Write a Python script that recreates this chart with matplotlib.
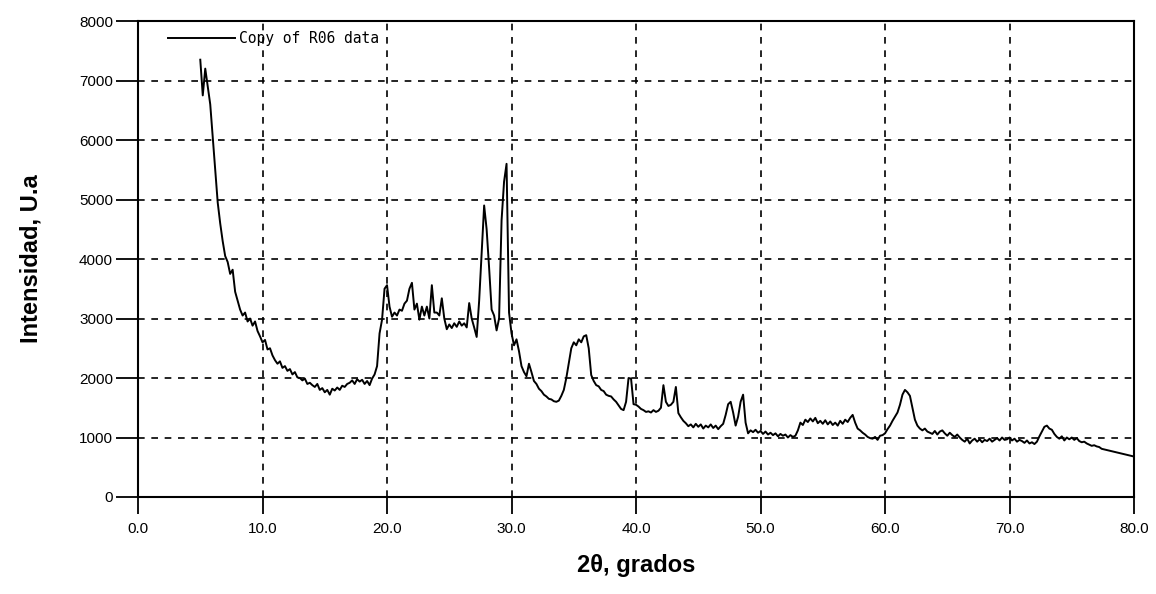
import numpy as np
import matplotlib
matplotlib.use("Agg")
import matplotlib.pyplot as plt

# scan grid of the diffractogram (2 theta, degrees)
theta_start = 5.0
theta_step = 0.2

# intensity, 5 points per degree from 5.0 to 80.0
intensidad = [
    7350, 6750, 7200, 6900, 6600,   # 5
    6050, 5500, 4950, 4600, 4300,   # 6
    4050, 3950, 3750, 3820, 3450,   # 7
    3300, 3150, 3050, 3100, 2950,   # 8
    3000, 2880, 2950, 2790, 2700,   # 9
    2600, 2640, 2480, 2500, 2380,   # 10
    2300, 2240, 2280, 2170, 2200,   # 11
    2120, 2150, 2060, 2100, 2010,   # 12
    2000, 1960, 1990, 1900, 1920,   # 13
    1880, 1850, 1900, 1800, 1830,   # 14
    1760, 1800, 1720, 1820, 1790,   # 15
    1840, 1800, 1870, 1850, 1900,   # 16
    1920, 1960, 1900, 1980, 1940,   # 17
    1970, 1900, 1950, 1880, 1990,   # 18
    2060, 2200, 2750, 2980, 3500,   # 19
    3560, 3200, 3030, 3100, 3050,   # 20
    3150, 3130, 3250, 3300, 3500,   # 21
    3600, 3150, 3250, 2980, 3200,   # 22
    3050, 3200, 3000, 3560, 3100,   # 23
    3100, 3050, 3340, 3000, 2820,   # 24
    2900, 2840, 2920, 2860, 2950,   # 25
    2880, 2920, 2850, 3260, 3000,   # 26
    2850, 2690, 3300, 4100, 4900,   # 27
    4500, 3850, 3150, 3050, 2800,   # 28
    3000, 4650, 5300, 5600, 3100,   # 29
    2750, 2550, 2650, 2450, 2200,   # 30
    2100, 2030, 2240, 2100, 1950,   # 31
    1900, 1820, 1780, 1720, 1690,   # 32
    1650, 1640, 1610, 1600, 1620,   # 33
    1700, 1800, 2000, 2250, 2500,   # 34
    2600, 2550, 2650, 2600, 2700,   # 35
    2720, 2500, 2050, 1950, 1880,   # 36
    1860, 1800, 1780, 1720, 1700,   # 37
    1690, 1640, 1600, 1540, 1480,   # 38
    1460, 1600, 2000, 1990, 1560,   # 39
    1550, 1520, 1480, 1460, 1430,   # 40
    1440, 1420, 1460, 1430, 1450,   # 41
    1500, 1880, 1600, 1530, 1550,   # 42
    1600, 1850, 1410, 1340, 1280,   # 43
    1240, 1190, 1220, 1170, 1230,   # 44
    1180, 1220, 1150, 1200, 1170,   # 45
    1220, 1160, 1200, 1140, 1190,   # 46
    1230, 1380, 1560, 1600, 1420,   # 47
    1200, 1350, 1600, 1720, 1250,   # 48
    1070, 1120, 1090, 1130, 1080,   # 49
    1110, 1060, 1100, 1050, 1080,   # 50
    1040, 1070, 1020, 1060, 1030,   # 51
    1050, 1000, 1040, 1010, 1030,   # 52
    1120, 1250, 1210, 1300, 1260,   # 53
    1320, 1270, 1330, 1240, 1280,   # 54
    1230, 1290, 1220, 1270, 1210,   # 55
    1250, 1200, 1280, 1230, 1300,   # 56
    1260, 1330, 1380, 1250, 1150,   # 57
    1120, 1080, 1050, 1010, 990,    # 58
    980, 1010, 960, 1030, 1040,     # 59
    1070, 1140, 1200, 1280, 1350,   # 60
    1420, 1550, 1720, 1800, 1760,   # 61
    1700, 1500, 1300, 1200, 1150,   # 62
    1120, 1150, 1100, 1080, 1060,   # 63
    1110, 1050, 1100, 1120, 1070,   # 64
    1030, 1080, 1040, 1010, 1050,   # 65
    1000, 960, 930, 980, 900,       # 66
    950, 980, 930, 970, 920,        # 67
    960, 940, 980, 930, 960,        # 68
    990, 950, 1000, 960, 970,       # 69
    1000, 950, 980, 930, 960,       # 70
    940, 910, 950, 900, 920,        # 71
    890, 930, 1020, 1100, 1180,     # 72
    1200, 1150, 1130, 1060, 1010,   # 73
    980, 1020, 950, 1000, 970,      # 74
    1000, 960, 990, 940, 920,       # 75
    930, 900, 880, 860, 870,        # 76
    850, 840, 810, 800, 790,        # 77
    780, 770, 760, 750, 740,        # 78
    730, 720, 710, 700, 690,        # 79
    680,                            # 80
]
dos_theta = theta_start + theta_step * np.arange(len(intensidad))

x_ticks = [0, 10, 20, 30, 40, 50, 60, 70, 80]
y_ticks = [0, 1000, 2000, 3000, 4000, 5000, 6000, 7000, 8000]

plt.rcParams['font.family'] = ['Liberation Sans', 'DejaVu Sans']

fig = plt.figure(figsize=(11.56, 5.94), dpi=100)
ax = fig.add_axes([0.1194, 0.1633, 0.8616, 0.8013])

ax.plot(dos_theta, intensidad, color='black', linewidth=1.4, label='Copy of R06 data')

ax.set_xlim(0, 80)
ax.set_ylim(0, 8000)
ax.set_xticks(x_ticks)
ax.set_xticklabels(['%.1f' % t for t in x_ticks])
ax.set_yticks(y_ticks)
ax.set_yticklabels([str(t) for t in y_ticks])

ax.grid(True, color='black', linestyle=(0, (4, 4)), linewidth=1.2)
for s in ax.spines.values():
    s.set_linewidth(1.5)

ax.tick_params(axis='y', direction='out', length=16, width=1.3, pad=2, labelsize=11)
ax.tick_params(axis='x', direction='out', length=12, width=1.3, pad=6, labelsize=11)

ax.set_xlabel('2θ, grados', fontsize=17, fontweight='bold', labelpad=13)
ax.set_ylabel('Intensidad, U.a', fontsize=17, fontweight='bold', labelpad=26)

ax.legend(loc='upper left', bbox_to_anchor=(0.03, 0.978), frameon=False,
          prop={'family': 'DejaVu Sans Mono', 'size': 10.5},
          handlelength=4.6, handletextpad=0.3, borderaxespad=0, borderpad=0)

fig.savefig('out.png', dpi=100)
